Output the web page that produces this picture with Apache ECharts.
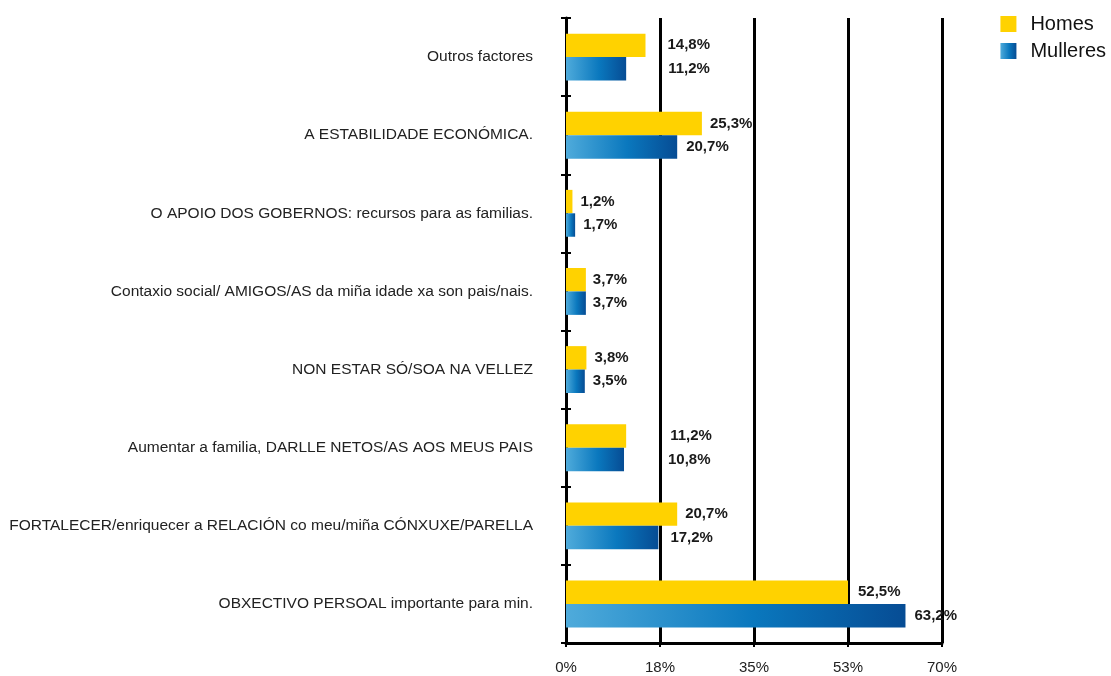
<!DOCTYPE html>
<html>
<head>
<meta charset="utf-8">
<script src="https://cdn.jsdelivr.net/npm/echarts@6/dist/echarts.min.js"></script>
<style>
html,body{margin:0;padding:0;background:#fff;}
#chart{width:1111px;height:676px;}
</style>
</head>
<body>
<div id="chart"></div>
<script>
var categories = [
  "Outros factores",
  "A ESTABILIDADE ECONÓMICA.",
  "O APOIO DOS GOBERNOS: recursos para as familias.",
  "Contaxio social/ AMIGOS/AS da miña idade xa son pais/nais.",
  "NON ESTAR SÓ/SOA NA VELLEZ",
  "Aumentar a familia, DARLLE NETOS/AS AOS MEUS PAIS",
  "FORTALECER/enriquecer a RELACIÓN co meu/miña CÓNXUXE/PARELLA",
  "OBXECTIVO PERSOAL importante para min."
];
var homes = [14.8, 25.3, 1.2, 3.7, 3.8, 11.2, 20.7, 52.5];
var mulleres = [11.2, 20.7, 1.7, 3.7, 3.5, 10.8, 17.2, 63.2];
var xTicks = [0, 17.5, 35, 52.5, 70];

// label spacing (style only): distance of each value label from its bar end
var homesLabelGap = [22, 8, 8, 7, 8, 44, 8, 10];
var mulleresLabelGap = [42, 9, 8, 7, 8, 44, 12, 9];

var chart = echarts.init(document.getElementById('chart'), null, {renderer: 'canvas'});
var fontFam = '"Liberation Sans", Arial, sans-serif';
function fmt(v){ return v.toFixed(1).replace('.', ',') + '%'; }
function mkData(vals, gaps){
  return vals.map(function(v, i){ return {value: v, label: {distance: gaps[i]}}; });
}
var labelStyle = {
  show: true, position: 'right', distance: 8,
  fontFamily: fontFam, fontSize: 15, fontWeight: 'bold', color: '#1a1a1a',
  formatter: function(p){ return fmt(p.value); }
};
chart.setOption({
  animation: false,
  legend: {
    right: 0, top: 9, orient: 'vertical', itemWidth: 16, itemHeight: 16, itemGap: 7,
    icon: 'rect',
    textStyle: {fontFamily: fontFam, fontSize: 20, color: '#111', padding: [0, 0, 0, 9]},
    data: ['Homes', 'Mulleres']
  },
  grid: {left: 566, top: 18, right: 169, bottom: 33, containLabel: false},
  xAxis: {
    type: 'value', min: xTicks[0], max: xTicks[xTicks.length-1], interval: xTicks[1]-xTicks[0],
    axisLine: {show: true, lineStyle: {color: '#000', width: 3}},
    axisTick: {show: true, length: 4, lineStyle: {color: '#000', width: 2}},
    splitLine: {show: true, lineStyle: {color: '#000', width: 3}},
    axisLabel: {margin: 17, fontFamily: fontFam, fontSize: 15, color: '#222',
      formatter: function(v){ return Math.round(v) + '%'; }}
  },
  yAxis: [{
    type: 'category', inverse: true, data: categories,
    axisLine: {show: true, lineStyle: {color: '#000', width: 3}},
    axisTick: {show: true, length: 5, lineStyle: {color: '#000', width: 2}},
    axisLabel: {margin: 33, fontFamily: fontFam, fontSize: 15.5, color: '#222'}
  }, {
    type: 'category', inverse: true, data: categories, position: 'left', offset: 0,
    axisLine: {show: false},
    axisTick: {show: true, inside: true, length: 5, lineStyle: {color: '#000', width: 2}},
    axisLabel: {show: false},
    splitLine: {show: false}
  }],
  series: [
    {
      name: 'Homes', type: 'bar', data: mkData(homes, homesLabelGap), barGap: '0%', barCategoryGap: '40%',
      itemStyle: {color: '#FFD200'},
      label: labelStyle
    },
    {
      name: 'Mulleres', type: 'bar', data: mkData(mulleres, mulleresLabelGap), barGap: '0%', barCategoryGap: '40%',
      itemStyle: {color: new echarts.graphic.LinearGradient(0, 0, 1, 0, [
        {offset: 0, color: '#4FABDB'},
        {offset: 0.55, color: '#0A78BE'},
        {offset: 1, color: '#064C94'}
      ])},
      label: labelStyle
    }
  ]
});
</script>
</body>
</html>
